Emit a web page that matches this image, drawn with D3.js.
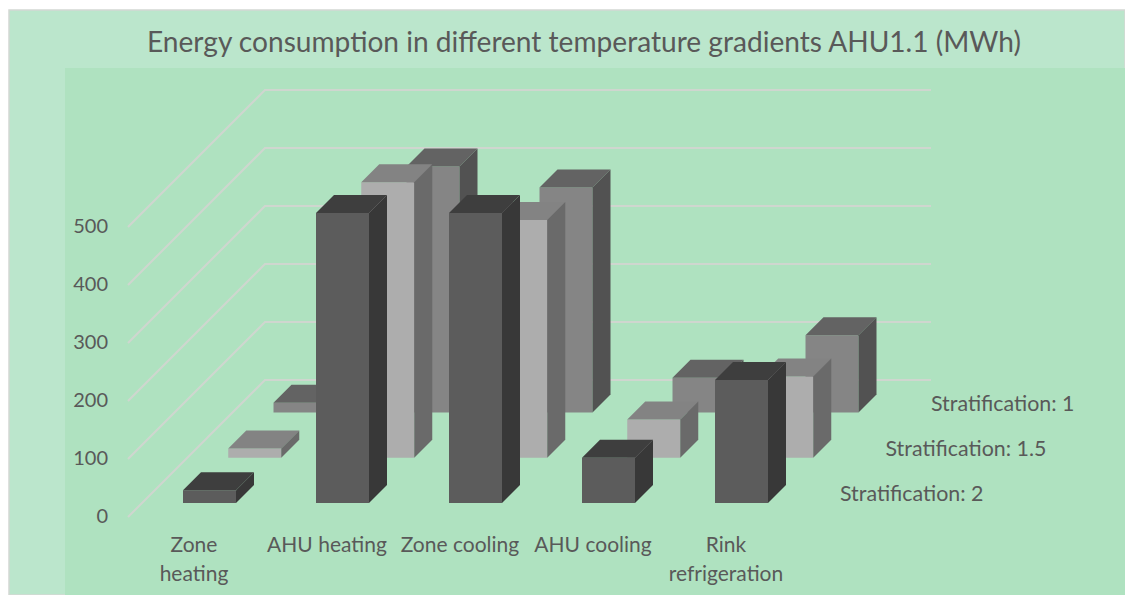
<!DOCTYPE html>
<html><head><meta charset="utf-8">
<script src="https://cdn.jsdelivr.net/npm/d3@7/dist/d3.min.js"></script>
<style>html,body{margin:0;background:#fff}svg{display:block}text{font-family:Lato,"Open Sans",sans-serif;fill:#595959}</style>
</head><body><svg id="c" width="1125" height="595"></svg>
<script>
const title = "Energy consumption in different temperature gradients AHU1.1 (MWh)";
const categories = ["Zone heating","AHU heating","Zone cooling","AHU cooling","Rink refrigeration"];
const categoryLines = [["Zone","heating"],["AHU heating"],["Zone cooling"],["AHU cooling"],["Rink","refrigeration"]];
const seriesNames = ["Stratification: 2","Stratification: 1.5","Stratification: 1"];
const strat2 = [22,500,500,78,212];
const strat15 = [16,475,410,66,140];
const strat1 = [17,424,388,60,133];
const yTicks = [0,100,200,300,400,500];
const frontColors = ["#5c5c5c","#adadad","#858585"];
const topColors = ["#3e3e3e","#838383","#636363"];
const sideColors = ["#383838","#6a6a6a","#525252"];

const svg = d3.select("#c");
svg.append("rect").attr("x",9).attr("y",10).attr("width",1116).attr("height",585).attr("fill","#bbe6cc").attr("stroke","#d4d8d4").attr("stroke-width",1.5);
svg.append("rect").attr("x",65).attr("y",68).attr("width",1060).attr("height",527).attr("fill","#afe2c0");
svg.append("text").attr("x",584).attr("y",52).attr("text-anchor","middle").attr("font-size",28.1).text(title);

const y = d3.scaleLinear().domain([0,100]).range([0,58]);       // height in px
const x = d3.scaleBand().domain(categories).range([183,848]).paddingInner(0).paddingOuter(0);
const barW = 53, ext = 18;
const depth = d3.scalePoint().domain(seriesNames).range([0,90.5]);

// gridlines
const gx0=128, gy0=517, gDepth=137, gx1=931;
const grid = svg.append("g").attr("fill","none").attr("stroke","#cfd6cf").attr("stroke-width",2);
yTicks.forEach(t=>{
  const h=y(t);
  grid.append("path").attr("d",d3.line()([[gx0,gy0-h],[gx0+gDepth,gy0-gDepth-h],[gx1,gy0-gDepth-h]]));
  svg.append("text").attr("x",108).attr("y",gy0-h+6).attr("text-anchor","end").attr("font-size",20).text(t);
});

// bars back to front
const allSeries=[strat2,strat15,strat1];
const base=503;
[2,1,0].forEach(si=>{
  const g=svg.append("g");
  categories.forEach((c,ci)=>{
    const d=depth(seriesNames[si]), x0=x(c)+d, b=base-d, h=y(allSeries[si][ci]), t=b-h, x1=x0+barW;
    const line=d3.line();
    g.append("path").attr("fill",frontColors[si]).attr("d",line([[x0,b],[x1,b],[x1,t],[x0,t]])+"Z");
    g.append("path").attr("fill",topColors[si]).attr("d",line([[x0,t],[x1,t],[x1+ext,t-ext],[x0+ext,t-ext]])+"Z");
    g.append("path").attr("fill",sideColors[si]).attr("d",line([[x1,b],[x1+ext,b-ext],[x1+ext,t-ext],[x1,t]])+"Z");
  });
});

// category labels
const labelX = d3.scalePoint().domain(categories).range([194,726]);
categories.forEach((c,i)=>{
  categoryLines[i].forEach((l,j)=>{
    svg.append("text").attr("x",labelX(c)).attr("y",552+j*29).attr("text-anchor","middle").attr("font-size",21).text(l);
  });
});
// series labels
const seriesX = d3.scalePoint().domain(seriesNames).range([840,931]);
const seriesY = d3.scalePoint().domain(seriesNames).range([501,411]);
seriesNames.forEach(s=>{
  svg.append("text").attr("x",seriesX(s)).attr("y",seriesY(s)).attr("font-size",21.4).text(s);
});
</script></body></html>
